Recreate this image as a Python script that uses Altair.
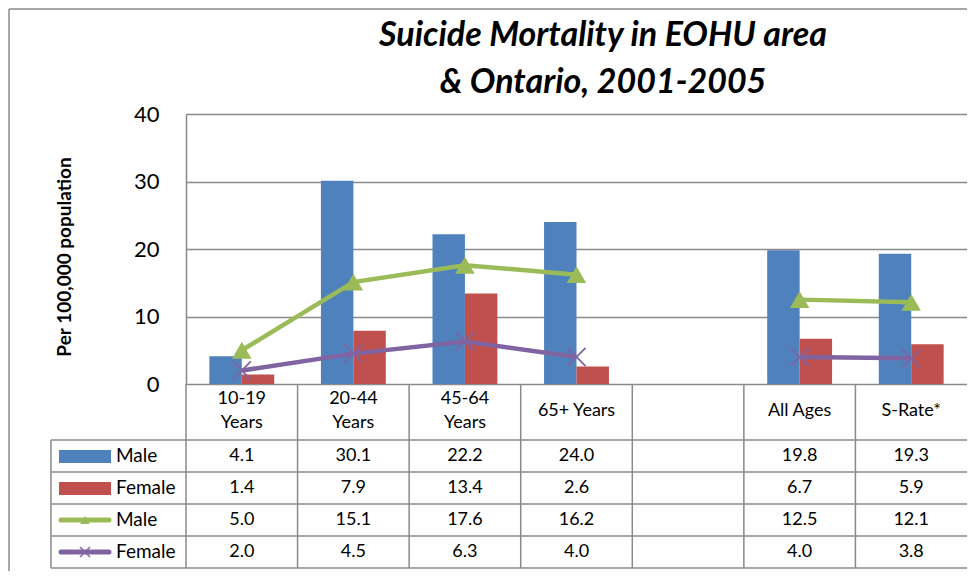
import altair as alt
import pandas as pd

# ---------------- data ----------------
categories = ["10-19 Years", "20-44 Years", "45-64 Years", "65+ Years", "(blank)", "All Ages", "S-Rate*"]
header_labels = ["10-19\nYears", "20-44\nYears", "45-64\nYears", "65+ Years", "", "All Ages", "S-Rate*"]
eohu_male = [4.1, 30.1, 22.2, 24.0, None, 19.8, 19.3]
eohu_female = [1.4, 7.9, 13.4, 2.6, None, 6.7, 5.9]
ont_male = [5.0, 15.1, 17.6, 16.2, None, 12.5, 12.1]
ont_female = [2.0, 4.5, 6.3, 4.0, None, 4.0, 3.8]
line_segments = [1, 1, 1, 1, None, 2, 2]
series_names = ["Male", "Female", "Male", "Female"]
title_lines = ["Suicide Mortality in EOHU area", "& Ontario, 2001-2005"]
y_title = "Per 100,000 population"
y_ticks = [0, 10, 20, 30, 40]

# ---------------- style ----------------
BLUE, RED, GREEN, PURPLE = "#4F81BD", "#C0504D", "#9BBB59", "#8064A2"
GRID = "#8a8a8a"
FONT = "Lato"
W, H = 781, 270
ROW_LINES = [326, 358, 390, 422, 454]
ROW_CENTERS = [342, 374, 406, 438]
TABLE_BOTTOM = ROW_LINES[-1]

bar_rows = []
for c, m, f in zip(categories, eohu_male, eohu_female):
    if m is not None:
        bar_rows.append({"cat": c, "series": "Male", "val": m})
        bar_rows.append({"cat": c, "series": "Female", "val": f})
bar_df = pd.DataFrame(bar_rows)


def line_df(values):
    return pd.DataFrame([
        {"cat": c, "val": v, "seg": s}
        for c, v, s in zip(categories, values, line_segments) if v is not None
    ])


male_line_df = line_df(ont_male)
female_line_df = line_df(ont_female)

xscale = alt.Scale(domain=categories, paddingInner=0, paddingOuter=0)
X = alt.X("cat:N", scale=xscale, axis=None)
yaxis = alt.Axis(values=y_ticks, grid=True, gridColor=GRID, gridWidth=1.5,
                 domain=True, domainColor=GRID, domainWidth=1.5, ticks=False,
                 labelFont=FONT, labelFontSize=22, labelColor="black",
                 labelPadding=27, title=None)
Y = alt.Y("val:Q", scale=alt.Scale(domain=[0, 40]), axis=yaxis)

dummy = pd.DataFrame({"k": [0]})

bars = alt.Chart(bar_df).mark_bar().encode(
    x=X,
    xOffset=alt.XOffset("series:N", scale=alt.Scale(domain=["Male", "Female"], paddingInner=0, paddingOuter=0.72)),
    y=Y,
    color=alt.Color("series:N", scale=alt.Scale(domain=["Male", "Female"], range=[BLUE, RED]), legend=None),
)

male_line = alt.Chart(male_line_df).mark_line(color=GREEN, strokeWidth=4.5).encode(
    x=X, y=Y, detail="seg:N")
male_pts = alt.Chart(male_line_df).mark_point(shape="triangle-up", filled=True, size=380,
                                              color=GREEN, opacity=1).encode(x=X, y=Y)
female_line = alt.Chart(female_line_df).mark_line(color=PURPLE, strokeWidth=4.5).encode(
    x=X, y=Y, detail="seg:N")
female_pts = alt.Chart(female_line_df).mark_point(shape="M-1,-1L1,1M-1,1L1,-1", filled=False,
                                                  size=330, strokeWidth=1.8, color=PURPLE,
                                                  opacity=1).encode(x=X, y=Y)

# ---------------- table ----------------
cat_df = pd.DataFrame({"cat": categories, "label": header_labels})
two_line_df = cat_df[cat_df["label"].str.contains("\n")]
one_line_df = cat_df[~cat_df["label"].str.contains("\n")]

vlines = alt.Chart(cat_df).mark_rule(color=GRID, strokeWidth=1.5).encode(
    x=alt.X("cat:N", scale=xscale, axis=None, bandPosition=0),
    y=alt.value(H), y2=alt.value(TABLE_BOTTOM))
left_border = alt.Chart(dummy).mark_rule(color=GRID, strokeWidth=1.5).encode(
    x=alt.value(-135), y=alt.value(ROW_LINES[0]), y2=alt.value(TABLE_BOTTOM))
hlines = [
    alt.Chart(dummy).mark_rule(color=GRID, strokeWidth=1.5).encode(
        x=alt.value(-135), x2=alt.value(W), y=alt.value(yy))
    for yy in ROW_LINES
]
header2 = alt.Chart(two_line_df).mark_text(font=FONT, fontSize=18, lineBreak="\n", lineHeight=24,
                                           baseline="middle", color="black").encode(
    x=X, y=alt.value(285), text="label:N")
header1 = alt.Chart(one_line_df).mark_text(font=FONT, fontSize=18, baseline="middle",
                                           color="black").encode(
    x=X, y=alt.value(297), text="label:N")

table_text = []
for vals, yy in zip([eohu_male, eohu_female, ont_male, ont_female], ROW_CENTERS):
    df = pd.DataFrame([{"cat": c, "val": v} for c, v in zip(categories, vals) if v is not None])
    table_text.append(alt.Chart(df).mark_text(font=FONT, fontSize=18, baseline="middle",
                                              color="black").encode(
        x=X, y=alt.value(yy), text=alt.Text("val:Q", format=".1f")))

legend_text = []
for name, yy in zip(series_names, ROW_CENTERS):
    legend_text.append(alt.Chart(pd.DataFrame({"name": [name]})).mark_text(
        font=FONT, fontSize=19, align="left", baseline="middle", color="black").encode(
        x=alt.value(-70), y=alt.value(yy), text="name:N"))

key_blue = alt.Chart(dummy).mark_rect(color=BLUE).encode(
    x=alt.value(-127), x2=alt.value(-75), y=alt.value(ROW_CENTERS[0] - 6), y2=alt.value(ROW_CENTERS[0] + 7))
key_red = alt.Chart(dummy).mark_rect(color=RED).encode(
    x=alt.value(-127), x2=alt.value(-75), y=alt.value(ROW_CENTERS[1] - 6), y2=alt.value(ROW_CENTERS[1] + 7))
key_green = alt.Chart(dummy).mark_rule(color=GREEN, strokeWidth=5, strokeCap="round").encode(
    x=alt.value(-125), x2=alt.value(-77), y=alt.value(ROW_CENTERS[2]))
key_green_pt = alt.Chart(dummy).mark_point(shape="triangle-up", filled=True, size=90, color=GREEN,
                                           opacity=1).encode(x=alt.value(-101), y=alt.value(ROW_CENTERS[2]))
key_purple = alt.Chart(dummy).mark_rule(color=PURPLE, strokeWidth=5, strokeCap="round").encode(
    x=alt.value(-125), x2=alt.value(-77), y=alt.value(ROW_CENTERS[3]))
key_purple_pt = alt.Chart(dummy).mark_point(shape="M-1,-1L1,1M-1,1L1,-1", filled=False, size=100,
                                            strokeWidth=1.5, color=PURPLE, opacity=1).encode(
    x=alt.value(-101), y=alt.value(ROW_CENTERS[3]))

# ---------------- titles & frame ----------------
title1 = alt.Chart(pd.DataFrame({"t": [title_lines[0]]})).mark_text(
    font=FONT, fontSize=34, fontStyle="italic", fontWeight="bold", align="center",
    baseline="alphabetic", color="black").encode(x=alt.value(417), y=alt.value(-68), text="t:N")
title2 = alt.Chart(pd.DataFrame({"t": [title_lines[1]]})).mark_text(
    font=FONT, fontSize=34, fontStyle="italic", fontWeight="bold", align="center",
    baseline="alphabetic", color="black").encode(x=alt.value(417), y=alt.value(-21), text="t:N")
ytitle = alt.Chart(pd.DataFrame({"t": [y_title]})).mark_text(
    font=FONT, fontSize=19, fontWeight="bold", angle=270, align="center", baseline="middle",
    color="black").encode(x=alt.value(-121), y=alt.value(143), text="t:N")
frame_left = alt.Chart(dummy).mark_rule(color=GRID, strokeWidth=1.5).encode(
    x=alt.value(-177), y=alt.value(-105), y2=alt.value(TABLE_BOTTOM + 10))
frame_top = alt.Chart(dummy).mark_rule(color=GRID, strokeWidth=1.5).encode(
    x=alt.value(-177), x2=alt.value(W), y=alt.value(-105))

chart = alt.layer(
    bars, male_line, female_line, male_pts, female_pts,
    vlines, left_border, *hlines, header1, header2, *table_text, *legend_text,
    key_blue, key_red, key_green, key_green_pt, key_purple, key_purple_pt,
    title1, title2, ytitle, frame_left, frame_top,
).properties(
    width=W, height=H, autosize="none",
    padding={"left": 178, "top": 106, "right": 0, "bottom": 187},
).configure_view(stroke=None).configure(background="white")

chart.save("out.html", embed_options={"renderer": "svg", "actions": False})
